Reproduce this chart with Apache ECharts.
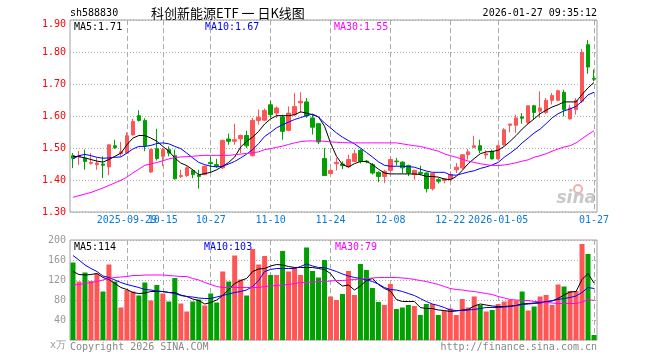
<!DOCTYPE html>
<html><head><meta charset="utf-8">
<script src="https://cdn.jsdelivr.net/npm/echarts@6/dist/echarts.min.js"></script>
<style>html,body{margin:0;padding:0;background:#fff}#c{width:660px;height:360px}</style>
</head><body><div id="c"></div>
<script>
const dates = ['2025-09-16','2025-09-17','2025-09-18','2025-09-19','2025-09-22','2025-09-23','2025-09-24','2025-09-25','2025-09-26','2025-09-29','2025-09-30',
'2025-10-09','2025-10-10','2025-10-13','2025-10-14','2025-10-15','2025-10-16','2025-10-17','2025-10-20','2025-10-21','2025-10-22','2025-10-23','2025-10-24','2025-10-27','2025-10-28','2025-10-29','2025-10-30','2025-10-31',
'2025-11-03','2025-11-04','2025-11-05','2025-11-06','2025-11-07','2025-11-10','2025-11-11','2025-11-12','2025-11-13','2025-11-14','2025-11-17','2025-11-18','2025-11-19','2025-11-20','2025-11-21','2025-11-24','2025-11-25','2025-11-26','2025-11-27','2025-11-28',
'2025-12-01','2025-12-02','2025-12-03','2025-12-04','2025-12-05','2025-12-08','2025-12-09','2025-12-10','2025-12-11','2025-12-12','2025-12-15','2025-12-16','2025-12-17','2025-12-18','2025-12-19','2025-12-22','2025-12-23','2025-12-24','2025-12-25','2025-12-26','2025-12-29','2025-12-30','2025-12-31',
'2026-01-05','2026-01-06','2026-01-07','2026-01-08','2026-01-09','2026-01-12','2026-01-13','2026-01-14','2026-01-15','2026-01-16','2026-01-19','2026-01-20','2026-01-21','2026-01-22','2026-01-23','2026-01-26','2026-01-27'];

const opens = [1.476,1.472,1.468,1.452,1.448,1.450,1.441,1.507,1.483,1.484,1.541,1.601,1.586,1.425,1.498,1.474,1.495,1.476,1.411,1.414,1.430,1.415,1.417,1.455,1.448,1.438,1.528,1.521,1.529,1.539,1.476,1.586,
1.587,1.635,1.609,1.597,1.555,1.604,1.641,1.644,1.594,1.576,1.467,1.420,1.451,1.450,1.441,1.458,1.493,1.459,1.448,1.424,1.411,1.430,1.459,1.456,1.445,1.417,1.424,1.422,1.373,1.401,1.399,
1.403,1.432,1.438,1.479,1.502,1.507,1.478,1.490,1.466,1.510,1.571,1.571,1.597,1.580,1.632,1.615,1.611,1.649,1.649,1.674,1.591,1.620,1.646,1.823,1.717];
const closes = [1.468,1.477,1.458,1.455,1.453,1.446,1.510,1.501,1.488,1.538,1.583,1.586,1.507,1.495,1.467,1.495,1.484,1.404,1.414,1.438,1.417,1.411,1.443,1.451,1.443,1.524,1.521,1.526,1.539,1.507,1.586,1.596,
1.617,1.604,1.625,1.552,1.609,1.630,1.646,1.601,1.565,1.519,1.414,1.430,1.455,1.445,1.464,1.482,1.458,1.457,1.422,1.411,1.427,1.464,1.457,1.438,1.422,1.430,1.420,1.373,1.420,1.396,1.403,
1.417,1.440,1.479,1.488,1.507,1.493,1.482,1.466,1.507,1.557,1.575,1.594,1.593,1.632,1.611,1.625,1.649,1.664,1.679,1.620,1.625,1.649,1.799,1.753,1.715];
const lows = [1.437,1.447,1.432,1.448,1.432,1.406,1.415,1.497,1.474,1.482,1.539,1.583,1.490,1.422,1.461,1.443,1.474,1.401,1.406,1.409,1.406,1.373,1.415,1.424,1.438,1.434,1.510,1.510,1.484,1.500,1.474,1.573,
1.584,1.594,1.594,1.526,1.552,1.601,1.609,1.594,1.542,1.512,1.412,1.418,1.430,1.434,1.438,1.456,1.452,1.452,1.417,1.393,1.390,1.424,1.445,1.420,1.412,1.401,1.414,1.361,1.367,1.389,1.390,
1.395,1.422,1.434,1.464,1.500,1.484,1.466,1.464,1.464,1.507,1.549,1.547,1.576,1.576,1.590,1.594,1.607,1.636,1.646,1.599,1.589,1.604,1.641,1.732,1.709];
const highs = [1.484,1.491,1.495,1.484,1.469,1.474,1.511,1.526,1.519,1.549,1.591,1.618,1.593,1.498,1.560,1.500,1.505,1.495,1.432,1.443,1.432,1.432,1.445,1.474,1.466,1.526,1.545,1.576,1.542,1.554,1.594,1.620,
1.623,1.648,1.630,1.604,1.630,1.672,1.674,1.656,1.604,1.578,1.500,1.434,1.469,1.458,1.479,1.495,1.497,1.462,1.453,1.427,1.432,1.469,1.469,1.458,1.448,1.432,1.445,1.424,1.422,1.406,1.406,
1.427,1.453,1.480,1.497,1.538,1.526,1.493,1.495,1.510,1.562,1.575,1.604,1.609,1.632,1.635,1.677,1.656,1.672,1.682,1.682,1.635,1.656,1.810,1.838,1.745];

const ma5 = [1.474,1.473,1.469,1.464,1.459,1.456,1.464,1.474,1.484,1.510,1.531,1.539,1.539,1.531,1.521,1.505,1.490,1.469,1.453,1.445,1.432,1.416,1.420,1.424,1.432,1.443,1.455,1.472,1.503,1.521,1.534,1.552,
1.575,1.591,1.601,1.601,1.601,1.604,1.613,1.609,1.604,1.597,1.568,1.516,1.474,1.448,1.441,1.451,1.458,1.458,1.448,1.434,1.422,1.419,1.419,1.419,1.419,1.419,1.417,1.411,1.411,1.409,1.403,
1.401,1.411,1.430,1.451,1.467,1.482,1.488,1.489,1.493,1.505,1.521,1.539,1.559,1.576,1.591,1.607,1.618,1.628,1.635,1.644,1.644,1.644,1.667,1.688,1.705];
const ma10 = [1.466,1.476,1.480,1.476,1.471,1.468,1.469,1.471,1.472,1.484,1.497,1.505,1.505,1.508,1.514,1.516,1.513,1.505,1.498,1.484,1.469,1.455,1.448,1.443,1.441,1.443,1.450,1.458,1.469,1.481,1.495,1.514,
1.536,1.549,1.563,1.573,1.581,1.589,1.595,1.601,1.606,1.597,1.578,1.563,1.547,1.534,1.523,1.513,1.500,1.486,1.472,1.457,1.446,1.443,1.443,1.443,1.442,1.440,1.434,1.428,1.424,1.424,1.424,
1.416,1.415,1.420,1.425,1.429,1.436,1.441,1.447,1.455,1.471,1.484,1.498,1.516,1.531,1.547,1.559,1.576,1.594,1.607,1.616,1.622,1.630,1.646,1.666,1.674];
const ma30 = [1.346,1.351,1.356,1.361,1.368,1.375,1.383,1.391,1.399,1.409,1.422,1.434,1.446,1.450,1.455,1.460,1.466,1.470,1.472,1.473,1.474,1.476,1.477,1.477,1.477,1.477,1.477,1.479,1.481,1.483,1.485,1.488,
1.495,1.498,1.502,1.506,1.511,1.516,1.520,1.522,1.522,1.522,1.521,1.519,1.518,1.517,1.516,1.516,1.516,1.516,1.516,1.516,1.516,1.516,1.516,1.513,1.510,1.507,1.505,1.500,1.495,1.490,1.482,
1.476,1.471,1.465,1.459,1.455,1.451,1.448,1.445,1.445,1.447,1.450,1.454,1.459,1.463,1.471,1.476,1.482,1.490,1.497,1.503,1.507,1.516,1.529,1.542,1.554];

const volumes = [155,117,135,118,133,97,151,117,65,100,97,89,115,79,110,93,77,124,73,57,77,81,69,93,75,137,117,169,121,89,182,151,
168,130,130,178,137,145,130,185,138,125,160,87,80,92,138,90,152,140,104,76,70,112,62,65,70,68,50,72,72,50,58,
63,50,82,65,87,70,57,60,72,77,80,79,97,59,67,87,90,70,111,107,98,98,192,172,10];
const vma5 = [137,131,130,131,133,125,121,113,105,101,95,93,94,97,97,97,95,95,90,87,82,79,72,75,80,89,101,113,119,123,137,142,
143,148,151,150,147,145,145,145,145,143,141,133,117,108,110,100,108,119,123,111,103,98,81,77,77,77,65,63,63,60,59,
57,58,60,61,68,72,70,68,67,67,68,69,72,73,74,75,77,78,83,90,96,97,121,133,114];
const vma10 = [169,160,150,143,137,128,125,120,115,111,108,105,101,100,98,97,95,93,89,87,86,84,83,83,86,89,92,95,97,100,107,119,
137,141,143,143,143,143,147,152,148,145,145,141,137,132,128,125,123,120,117,112,105,101,100,97,93,89,83,77,72,69,65,
60,59,59,60,61,63,65,65,65,66,67,69,71,72,73,74,76,79,81,83,85,88,95,105,103];
const vma30 = [110,111,113,115,117,120,123,125,126,127,129,129,130,130,130,130,129,128,127,127,123,120,115,111,107,105,105,105,105,105,105,105,
107,108,109,110,111,113,115,115,116,117,117,118,119,119,120,121,122,123,124,125,125,125,125,124,123,121,119,117,114,111,107,
103,101,100,98,97,95,93,91,87,84,81,80,79,79,77,77,75,74,73,73,73,73,76,81,79];

const tickDates = ['2025-09-29','2025-10-15','2025-10-27','2025-11-10','2025-11-24','2025-12-08','2025-12-22','2026-01-05','2026-01-27'];
const tickLabels = ['2025-09-29','10-15','10-27','11-10','11-24','12-08','12-22','2026-01-05','01-27'];
const priceTicks = {min:1.30, max:1.90, interval:0.10};
const volTicks = {min:0, max:200, interval:40};
const legendMain = ['MA5:1.71','MA10:1.67','MA30:1.55'];
const legendVol = ['MA5:114','MA10:103','MA30:79'];

const RED = '#ff5555', GREEN = '#00a000';
const MONO = '"DejaVu Sans Mono","Liberation Mono",monospace';
const labelMap = {};
tickDates.forEach((d,i)=>labelMap[d]=tickLabels[i]);
const isTick = (i, v) => Object.prototype.hasOwnProperty.call(labelMap, v);
const firstTick = tickDates[0];

const chart = echarts.init(document.getElementById('c'), null, {renderer:'canvas'});
const gridBase = {left:70, width:527, show:true, borderColor:'#a0a0a0', borderWidth:1, backgroundColor:'transparent', outerBoundsMode:'none', containLabel:false};
const labelStyle = {color:'#0a7ad6', fontFamily:MONO, fontSize:10, margin:3, hideOverlap:false};
function xAx(gi, showLabel){
  return {type:'category', gridIndex:gi, data:dates, boundaryGap:true, position:'bottom', offset:0,
    axisLine:{show:false}, axisTick:{show:false},
    axisLabel:Object.assign({show:showLabel, interval:(i,v)=>isTick(i,v) && v!==firstTick, formatter:v=>labelMap[v]||''}, labelStyle),
    splitLine:{show:true, interval:isTick, alignWithLabel:true, lineStyle:{color:'#aaaaaa', width:1, type:[5,3]}}};
}
const lineS = (name, data, color, xi, yi) => ({type:'line', name, data, xAxisIndex:xi, yAxisIndex:yi, showSymbol:false, symbol:'none', smooth:false,
  lineStyle:{color, width:1}, itemStyle:{color}, silent:true, z:5});
const text = (x,y,t,fill,font,align) => ({type:'text', x, y, silent:true, style:{text:t, fill, font, align:align||'left', verticalAlign:'middle'}});

chart.setOption({
  animation:false,
  backgroundColor:'#ffffff',
  grid:[Object.assign({top:20, height:192}, gridBase), Object.assign({top:240, height:100}, gridBase)],
  xAxis:[xAx(0,true), xAx(1,false),
    {type:'category', gridIndex:0, data:dates, boundaryGap:true, position:'bottom', offset:0,
     axisLine:{show:false}, axisTick:{show:false}, splitLine:{show:false},
     axisLabel:Object.assign({interval:(i,v)=>v===firstTick, formatter:v=>labelMap[v]||''}, labelStyle)}],
  yAxis:[
    {type:'value', gridIndex:0, min:priceTicks.min, max:priceTicks.max, interval:priceTicks.interval,
     axisLine:{show:false}, axisTick:{show:false},
     axisLabel:{color:'#ff0000', fontFamily:MONO, fontSize:10, margin:4,
       formatter:v=>Math.abs(v-priceTicks.max)<1e-9 ? '{top|'+v.toFixed(2)+'}' : v.toFixed(2),
       rich:{top:{color:'#ff0000', fontFamily:MONO, fontSize:10, padding:[8,0,0,0]}}},
     splitLine:{show:true, lineStyle:{color:'#aaaaaa', width:1, type:[1,2]}}},
    {type:'value', gridIndex:1, min:volTicks.min, max:volTicks.max, interval:volTicks.interval,
     axisLine:{show:false}, axisTick:{show:false},
     axisLabel:{color:'#999999', fontFamily:MONO, fontSize:10, margin:4,
       formatter:v=>v===0?'{unit|x万}':String(v),
       rich:{unit:{color:'#999999', fontFamily:MONO, fontSize:10, padding:[10,0,0,0]}}},
     splitLine:{show:true, lineStyle:{color:'#aaaaaa', width:1, type:[1,2]}}}
  ],
  series:[
    {type:'candlestick', xAxisIndex:0, yAxisIndex:0, barWidth:4,
     data:dates.map((d,i)=>[opens[i], closes[i], lows[i], highs[i]]),
     itemStyle:{color:RED, color0:GREEN, borderColor:RED, borderColor0:GREEN, borderWidth:1}, z:3},
    lineS('MA5', ma5, '#000000', 0, 0),
    lineS('MA10', ma10, '#0000ff', 0, 0),
    lineS('MA30', ma30, '#ff00ff', 0, 0),
    {type:'bar', xAxisIndex:1, yAxisIndex:1, barWidth:5,
     data:volumes.map((v,i)=>({value:v, itemStyle:{color: closes[i]>=opens[i]?RED:GREEN}})), z:3},
    lineS('VMA5', vma5, '#000000', 1, 1),
    lineS('VMA10', vma10, '#0000ff', 1, 1),
    lineS('VMA30', vma30, '#ff00ff', 1, 1)
  ],
  graphic:[
    text(70, 13, 'sh588830', '#000', '10px '+MONO),
    text(151, 13, '科创新能源ETF 一 日K线图', '#000', '13px "Noto Sans CJK SC"'),
    text(597, 13, '2026-01-27 09:35:12', '#000', '10px '+MONO, 'right'),
    text(74, 27, legendMain[0], '#000000', '10px '+MONO),
    text(205, 27, legendMain[1], '#0000ff', '10px '+MONO),
    text(334, 27, legendMain[2], '#ff00ff', '10px '+MONO),
    text(74, 247, legendVol[0], '#000000', '10px '+MONO),
    text(204, 247, legendVol[1], '#0000ff', '10px '+MONO),
    text(335, 247, legendVol[2], '#ff00ff', '10px '+MONO),
    text(70, 347, 'Copyright 2026 SINA.COM', '#888888', '10px '+MONO),
    text(597, 347, 'http://finance.sina.com.cn', '#888888', '10px '+MONO, 'right'),
    {type:'circle', silent:true, shape:{cx:578, cy:189, r:4}, style:{fill:'none', stroke:'#f2b0b0', lineWidth:2}},
    text(596, 199, 'sina', '#c8c8c8', 'italic bold 17px "DejaVu Sans"', 'right')
  ]
});
</script></body></html>
